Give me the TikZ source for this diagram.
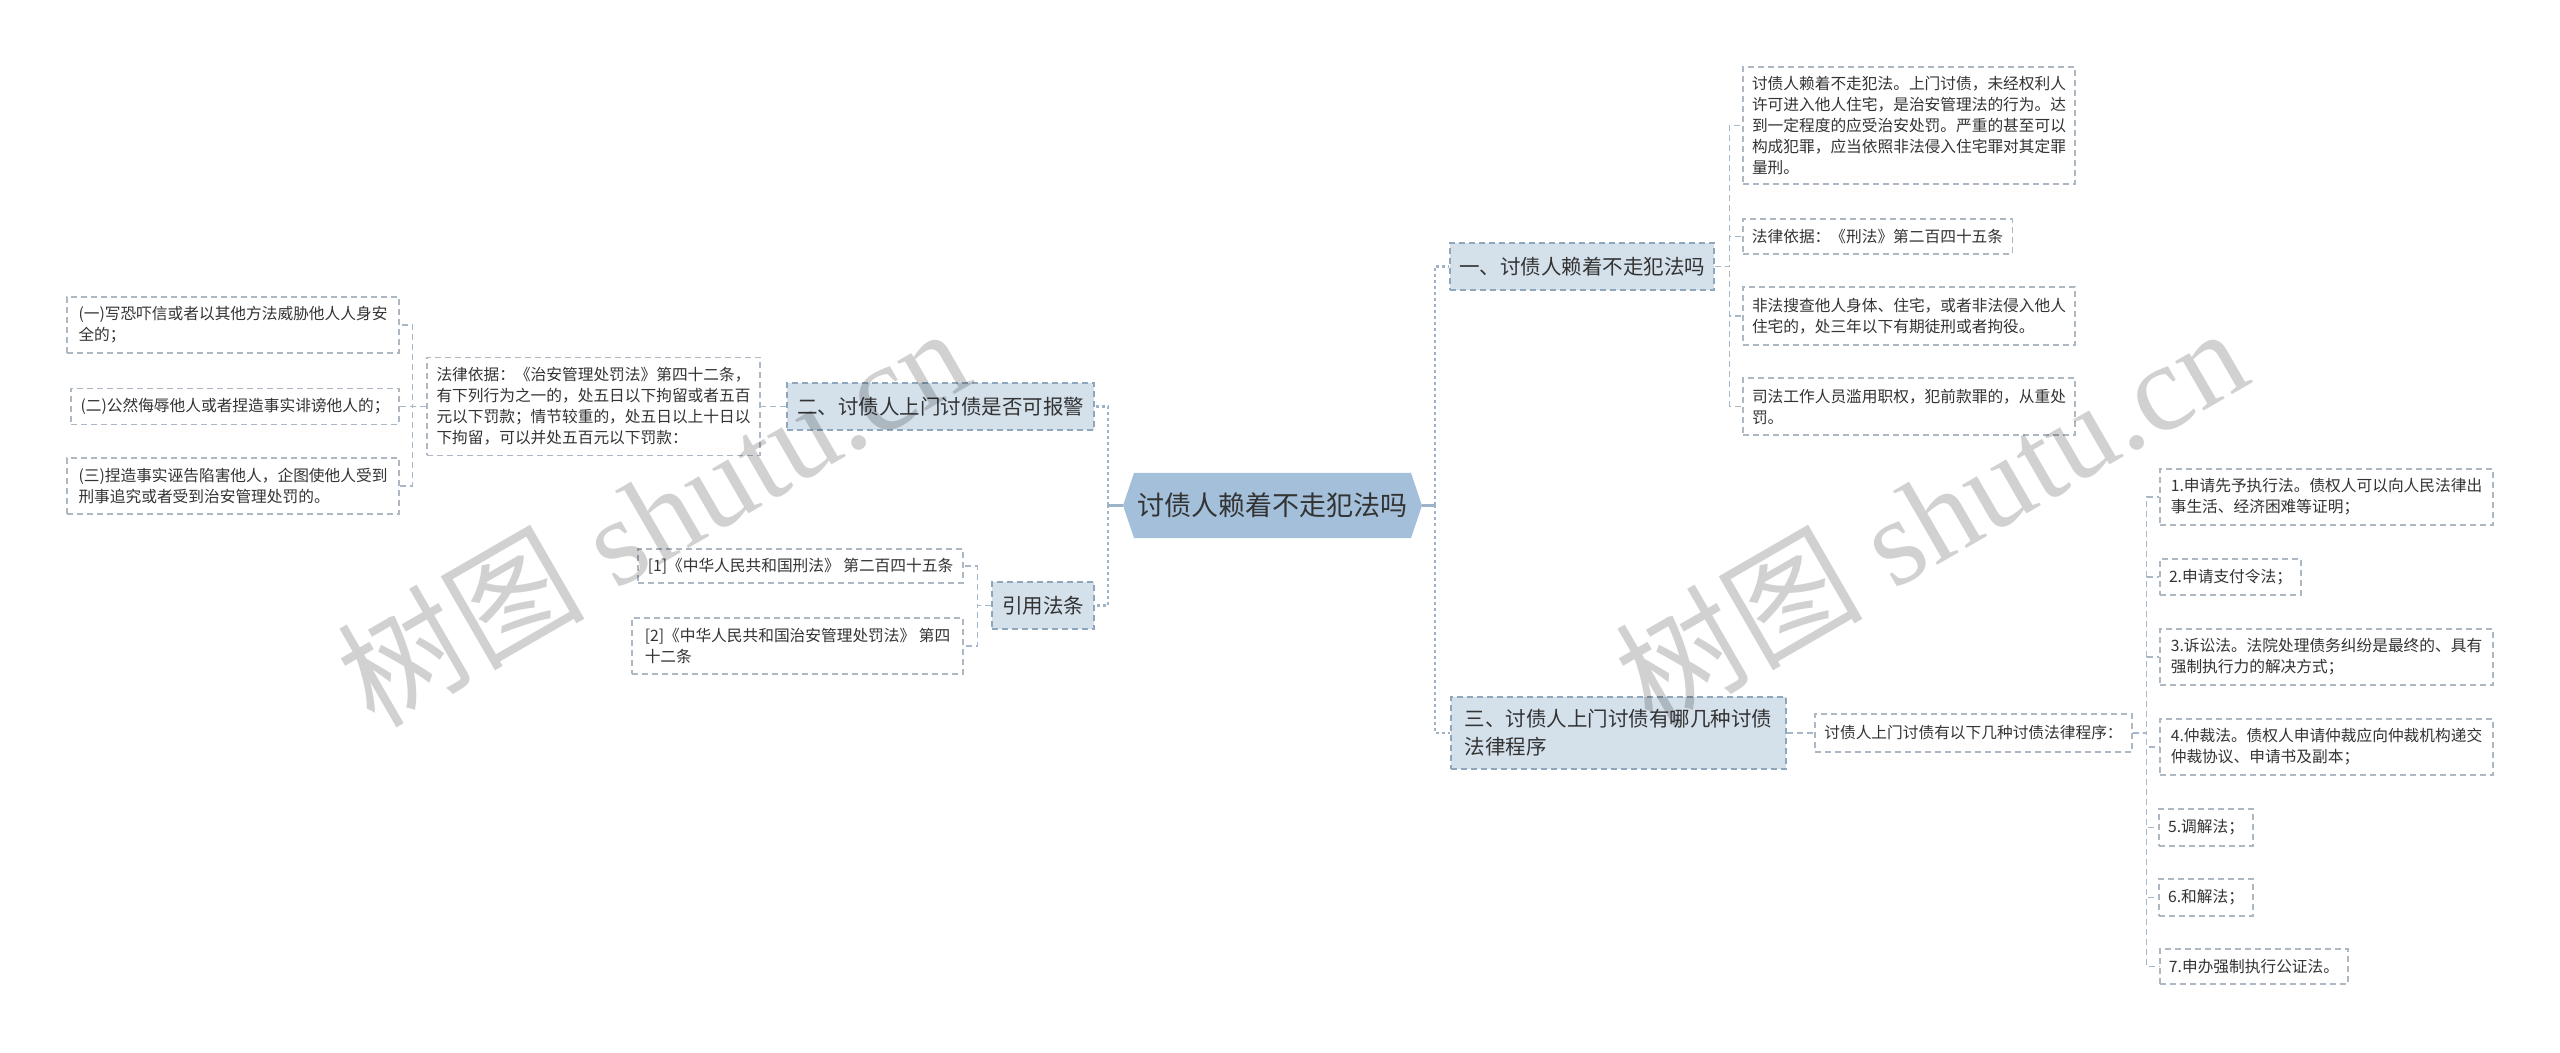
\documentclass[tikz,border=0pt]{standalone}
\usepackage{fontspec}
\newfontfamily\cjk{Noto Sans CJK SC}
\newfontfamily\wmserif{Liberation Serif}
\definecolor{txt}{HTML}{333333}
\definecolor{hexfill}{HTML}{A3BFDA}
\definecolor{lvfill}{HTML}{D4E0EA}
\definecolor{lvline}{HTML}{8FA7BD}
\definecolor{leafline}{HTML}{AEB8C2}
\definecolor{conn}{HTML}{A6B7C7}
\definecolor{mainconn}{HTML}{9DB3C7}
\begin{document}
\begin{tikzpicture}[x=0.5pt,y=-0.5pt,
  leaf/.style={draw=leafline, line width=0.6pt, dash pattern=on 3pt off 2pt, fill=white, text=txt,
    font=\fontsize{7.85pt}{10.5pt}\selectfont\cjk, align=left, inner xsep=4.5pt, inner ysep=2pt},
  lvone/.style={draw=lvline, line width=0.6pt, dash pattern=on 3pt off 2pt, fill=lvfill, text=txt,
    font=\fontsize{10.25pt}{14pt}\selectfont\cjk, align=left, inner xsep=4pt, inner ysep=2pt},
  hub/.style={text=txt, font=\fontsize{13.5pt}{16pt}\selectfont\cjk, minimum width=149.5pt,
    minimum height=32.5pt, inner sep=0pt},
  link/.style={draw=conn, line width=0.6pt, dash pattern=on 3pt off 2pt},
  mainlink/.style={draw=mainconn, line width=1.1pt, dash pattern=on 1.5pt off 1.5pt},
  mainsolid/.style={draw=mainconn, line width=1.1pt},
  wm/.style={font=\fontsize{62pt}{62pt}\selectfont\wmserif, text=black, opacity=0.18, inner sep=0pt}
]
\useasboundingbox (0,0) rectangle (2560,1053);
\fill[white] (0,0) rectangle (2560,1053);

% central hexagon
\fill[hexfill] (1123,505.5) -- (1134,473) -- (1411,473) -- (1422,505.5) -- (1411,538) -- (1134,538) -- cycle;
\node[hub] (hub) at (1272.5,505.5) {讨债人赖着不走犯法吗};

% level one
\node[lvone, minimum width=132pt, minimum height=23.5pt] (n1) at (1582,266.5) {一、讨债人赖着不走犯法吗};
\node[lvone, minimum width=167.5pt, minimum height=36pt] (n3) at (1618.5,733) {三、讨债人上门讨债有哪几种讨债\\法律程序};
\node[lvone, minimum width=153.5pt, minimum height=23.5pt] (n2) at (940.5,406.5) {二、讨债人上门讨债是否可报警};
\node[lvone, minimum width=51pt, minimum height=23.5pt] (n4) at (1043,605.5) {引用法条};

% left leaves
\node[leaf, minimum width=166pt, minimum height=28pt] (L1) at (233,325) {(一)写恐吓信或者以其他方法威胁他人人身安\\全的；};
\node[leaf, minimum width=164pt, minimum height=18pt] (L2) at (235,406.5) {(二)公然侮辱他人或者捏造事实诽谤他人的；};
\node[leaf, minimum width=166pt, minimum height=28pt] (L3) at (233,486) {(三)捏造事实诬告陷害他人，企图使他人受到\\刑事追究或者受到治安管理处罚的。};
\node[leaf, minimum width=166.5pt, minimum height=49pt] (LAW) at (593.5,406.5) {法律依据：《治安管理处罚法》第四十二条，\\有下列行为之一的，处五日以下拘留或者五百\\元以下罚款；情节较重的，处五日以上十日以\\下拘留，可以并处五百元以下罚款：};
\node[leaf, minimum width=162.5pt, minimum height=17pt] (C1) at (800.5,566) {[1]《中华人民共和国刑法》 第二百四十五条};
\node[leaf, minimum width=165.5pt, minimum height=28pt] (C2) at (797.5,646) {[2]《中华人民共和国治安管理处罚法》 第四\\十二条};

% right leaves (branch one)
\node[leaf, minimum width=166pt, minimum height=58.5pt] (R1) at (1909,125.5) {讨债人赖着不走犯法。上门讨债，未经权利人\\许可进入他人住宅，是治安管理法的行为。达\\到一定程度的应受治安处罚。严重的甚至可以\\构成犯罪，应当依照非法侵入住宅罪对其定罪\\量刑。};
\node[leaf, minimum width=134.5pt, minimum height=17.5pt] (R2) at (1877.5,236.5) {法律依据：《刑法》第二百四十五条};
\node[leaf, minimum width=166pt, minimum height=29pt] (R3) at (1909,316) {非法搜查他人身体、住宅，或者非法侵入他人\\住宅的，处三年以下有期徒刑或者拘役。};
\node[leaf, minimum width=166pt, minimum height=28.5pt] (R4) at (1909,406.5) {司法工作人员滥用职权，犯前款罪的，从重处\\罚。};

% branch three
\node[leaf, minimum width=158.5pt, minimum height=19pt] (P) at (1973.5,733) {讨债人上门讨债有以下几种讨债法律程序：};
\node[leaf, minimum width=166.5pt, minimum height=28pt] (I1) at (2326.5,497) {1.申请先予执行法。债权人可以向人民法律出\\事生活、经济困难等证明；};
\node[leaf, minimum width=70.5pt, minimum height=18pt] (I2) at (2230.5,577) {2.申请支付令法；};
\node[leaf, minimum width=166.5pt, minimum height=28pt] (I3) at (2326.5,657) {3.诉讼法。法院处理债务纠纷是最终的、具有\\强制执行力的解决方式；};
\node[leaf, minimum width=166.5pt, minimum height=28pt] (I4) at (2326.5,747) {4.仲裁法。债权人申请仲裁应向仲裁机构递交\\仲裁协议、申请书及副本；};
\node[leaf, minimum width=46pt, minimum height=18.5pt] (I5) at (2206,827.5) {5.调解法；};
\node[leaf, minimum width=46pt, minimum height=18.5pt] (I6) at (2206,897.5) {6.和解法；};
\node[leaf, minimum width=94pt, minimum height=17.5pt] (I7) at (2254,966.5) {7.申办强制执行公证法。};

% connectors from the hub
\coordinate (sl) at (1108,505.5);
\coordinate (sr) at (1435,505.5);
\draw[mainsolid] (hub.west) -- (sl);
\draw[mainsolid] (hub.east) -- (sr);
\draw[mainlink] (sl) |- (n2.east);
\draw[mainlink] (sl) |- (n4.east);
\draw[mainlink] (sr) |- (n1.west);
\draw[mainlink] (sr) |- (n3.west);

% branch one
\foreach \t in {R1,R2,R3,R4} \draw[link] (n1.east) -- ++(15,0) |- (\t.west);
% branch two
\draw[link] (n2.west) -- (LAW.east);
\foreach \t in {L1,L2,L3} \draw[link] (LAW.west) -- ++(-14,0) |- (\t.east);
% citations
\foreach \t in {C1,C2} \draw[link] (n4.west) -- ++(-14,0) |- (\t.east);
% branch three
\draw[link] (n3.east) -- (P.west);
\foreach \t in {I1,I2,I3,I4,I5,I6,I7} \draw[link] (P.east) -- ++(14,0) |- (\t.west);

% watermark
\node[wm, rotate=30] (wm1) at (652,515) {{\cjk 树图} shutu.cn};
\node[wm, rotate=30] (wm2) at (1930,515) {{\cjk 树图} shutu.cn};
\end{tikzpicture}
\end{document}
